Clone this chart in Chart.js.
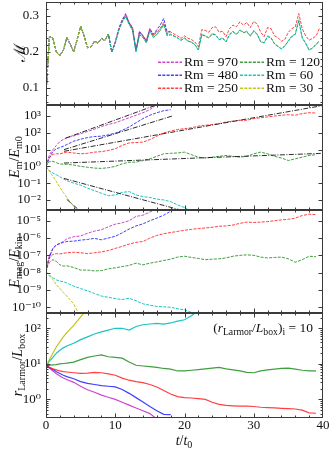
<!DOCTYPE html>
<html>
<head>
<meta charset="utf-8">
<title>MHD dynamo panels</title>
<script src="https://cdn.jsdelivr.net/npm/chart.js@4.4.1/dist/chart.umd.min.js"></script>
<style>
html,body{margin:0;padding:0;background:#fff;}
#fig{position:relative;width:333px;height:450px;overflow:hidden;font-family:"Liberation Serif","DejaVu Serif",serif;color:#111;}
#fig canvas{position:absolute;left:0;}
.t{position:absolute;white-space:nowrap;line-height:1;}
.yl{font-size:14px;transform:translate(-50%,-50%) rotate(-90deg);}
.t sub{font-size:72%;vertical-align:-0.3em;line-height:0;}
.leg{position:absolute;font-size:13.5px;line-height:1;white-space:nowrap;display:flex;align-items:center;transform:translateY(-50%);}
.leg svg{margin-right:2px;display:block;}
</style>
</head>
<body>
<div id="fig">
<canvas id="c1" width="333" height="111" style="top:0px"></canvas>
<canvas id="c2" width="333" height="117" style="top:99px"></canvas>
<canvas id="c3" width="333" height="115" style="top:204px"></canvas>
<canvas id="c4" width="333" height="143" style="top:307px"></canvas>
<div class="t yl" style="left:20px;top:53px;font-size:16px">ℳ</div>
<div class="t yl" style="left:15px;top:157px"><i>E</i><sub>m</sub>/<i>E</i><sub>m0</sub></div>
<div class="t yl" style="left:15px;top:262px"><i>E</i><sub>mag</sub>/<i>E</i><sub>kin</sub></div>
<div class="t yl" style="left:18px;top:365px"><i>r</i><sub>Larmor</sub>/<i>L</i><sub>box</sub></div>
<div class="t" style="left:184px;top:441px;transform:translate(-50%,-50%);font-size:14px"><i>t</i>/<i>t</i><sub>0</sub></div>
<div class="t" style="right:20px;top:328px;transform:translateY(-50%);font-size:13.5px">(<i>r</i><sub>Larmor</sub>/<i>L</i><sub>box</sub>)<sub>i</sub> = 10</div>
<div id="legend"></div>
</div>
<script>
// ---------- categories / labels ----------
const rmLabels = ['Rm = 970','Rm = 480','Rm = 250','Rm = 120','Rm = 60','Rm = 30'];
const rmColors = ['rgba(200,50,200,0.9)','rgba(30,30,255,0.85)','rgba(255,30,30,0.85)','rgba(30,140,30,0.85)','rgba(0,190,190,0.9)','rgba(190,190,0,0.9)'];

// ---------- tick labels ----------
const timeTicks = [0,10,20,30,40];
const timeLabels = ['0','10','20','30','40'];
const timeMinor = [2,4,6,8,12,14,16,18,22,24,26,28,32,34,36,38];
const machTicks = [0.1,0.2,0.3];
const machLabels = ['0.1','0.2','0.3'];
const machMinor = [0.06,0.08,0.12,0.14,0.16,0.18,0.22,0.24,0.26,0.28,0.32];
const emTicks = [1e-2,1e-1,1e0,1e1,1e2,1e3];
const emLabels = ['10⁻²','10⁻¹','10⁰','10¹','10²','10³'];
const ratioTicks = [1e-10,1e-9,1e-8,1e-7,1e-6,1e-5];
const ratioLabels = ['10⁻¹⁰','10⁻⁹','10⁻⁸','10⁻⁷','10⁻⁶','10⁻⁵'];
const larmorTicks = [1e0,1e1,1e2];
const larmorLabels = ['10⁰','10¹','10²'];
const larmorMinor = [0.4,0.5,0.6,0.7,0.8,0.9,2,3,4,5,6,7,8,9,20,30,40,50,60,70,80,90,200];

// ---------- panel 1: Mach number ----------
const tMach = [0,0.5,1,1.5,2,2.5,3,3.5,4,4.5,5,5.5,6,6.5,7,7.5,8,8.5,9,9.5,10,10.5,11,11.5,12,12.5,13,13.5,14,14.5,15,15.5,16,16.5,17,17.5,18,18.5,19,19.5,20,20.5,21,21.5,22,22.5,23,23.5,24,24.5,25,25.5,26,26.5,27,27.5,28,28.5,29,29.5,30,30.5,31,31.5,32,32.5,33,33.5,34,34.5,35,35.5,36,36.5,37,37.5,38,38.5,39,39.5];
const machRm970 = [0.085,0.243,0.238,0.2,0.19,0.205,0.24,0.222,0.2,0.235,
 0.272,0.245,0.212,0.215,0.23,0.225,0.238,0.232,0.25,0.2,
 0.228,0.265,0.29,0.307,0.283,0.268,0.205,0.258,0.245,0.232,
 0.266,0.248,0.258];
const machRm480 = [0.085,0.243,0.238,0.2,0.19,0.205,0.24,0.222,0.2,0.235,
 0.272,0.245,0.212,0.215,0.23,0.225,0.238,0.232,0.25,0.2,
 0.227,0.263,0.288,0.304,0.281,0.266,0.204,0.256,0.246,0.23,
 0.262,0.25,0.262,0.275,0.293,0.255,0.258];
const machRm250 = [0.085,0.243,0.238,0.2,0.19,0.205,0.24,0.222,0.2,0.235,
 0.272,0.245,0.212,0.215,0.23,0.225,0.238,0.232,0.25,0.2,
 0.226,0.262,0.286,0.302,0.28,0.264,0.203,0.254,0.244,0.23,
 0.265,0.245,0.255,0.266,0.282,0.25,0.256,0.25,0.245,0.238,
 0.245,0.238,0.235,0.228,0.215,0.262,0.26,0.255,0.268,0.27,
 0.255,0.258,0.243,0.265,0.275,0.27,0.284,0.275,0.282,0.268,
 0.285,0.278,0.255,0.243,0.268,0.265,0.245,0.24,0.23,0.235,
 0.255,0.265,0.27,0.307,0.265,0.245,0.233,0.238,0.245,0.266];
const machRm120 = [0.085,0.243,0.238,0.2,0.19,0.205,0.24,0.222,0.2,0.235,
 0.272,0.245,0.212,0.215,0.23,0.225,0.238,0.232,0.25,0.2,
 0.225,0.26,0.283,0.298,0.277,0.26,0.202,0.248,0.24,0.226,
 0.258,0.241,0.248,0.26,0.276,0.246,0.248,0.244,0.239,0.233,
 0.238,0.231,0.227,0.221,0.206,0.248,0.244,0.239,0.25,0.247,
 0.234,0.238,0.229,0.248,0.256,0.249,0.26,0.254,0.256,0.244,
 0.258,0.249,0.229,0.226,0.243,0.239,0.223,0.216,0.209,0.217,
 0.23,0.243,0.249,0.287,0.239,0.224,0.206,0.211,0.221,0.23];
const machRm60 = [0.085,0.243,0.238,0.2,0.19,0.205,0.24,0.222,0.2,0.235,
 0.272,0.245,0.212,0.215,0.23,0.225,0.238,0.232,0.25,0.2,
 0.225,0.26,0.285,0.3,0.278,0.262,0.2,0.25,0.24,0.225,
 0.26,0.24,0.25,0.262,0.278,0.245,0.25,0.245,0.24,0.232,
 0.24,0.23,0.228,0.22,0.205,0.25,0.245,0.24,0.252,0.248,
 0.235,0.24,0.228,0.25,0.258,0.25,0.262,0.255,0.258,0.245,
 0.26,0.25,0.228,0.225,0.245,0.24,0.222,0.215,0.208,0.218,
 0.232,0.245,0.25,0.29,0.24,0.225,0.205,0.212,0.222,0.232];
const machRm30 = [0.085,0.243,0.238,0.2,0.19,0.205,0.24,0.222,0.2,0.235,
 0.272,0.245,0.212,0.215,0.23,0.225,0.238,0.232,0.25];

// ---------- panels 2-4 share this time grid ----------
const tGrid = [0,0.25,0.5,1,1.5,2,2.5,3,4,5,6,7,8,9,10,11,12,13,14,15,16,17,18,19,20,21,22,23,24,25,26,27,28,29,30,31,32,33,34,35,36,37,38,39];

// panel 2: log10(E_m / E_m0)
const emLogRm970 = [0,0.35,0.7,1.0,1.25,1.48,1.6,1.7, 1.82,1.95,2.08,2.22,2.38,2.5,2.6,2.75,2.9,3.05,3.2,3.38,3.7];
const emLogRm480 = [0,0.25,0.5,0.9,1.05,1.12,1.2,1.3, 1.5,1.62,1.72,1.78,1.8,1.88,1.98,2.15,2.35,2.6,2.85,3.05,3.2,3.32,3.38];
const emLogRm250 = [0,0.35,0.55,0.72,0.75,0.75,0.8,0.85,
 0.8,0.75,0.78,0.85,0.88,0.95,1.05,1.25,1.4,1.42,1.45,1.6,1.8,2.0,2.1,2.2,2.25,2.3,2.4,2.45,2.5,2.55,2.65,2.7,2.75,2.75,2.85,2.9,2.95,3.0,3.05,3.08,3.05,3.15,3.2,3.18];
const emLogRm120 = [0,0.2,0.28,0.3,0.22,0.15,0.13,0.12,
 0.08,0.0,-0.05,-0.1,-0.12,-0.08,0.0,0.15,0.25,0.25,0.35,0.45,0.6,0.75,0.78,0.8,0.85,0.7,0.55,0.5,0.55,0.6,0.65,0.6,0.55,0.6,0.75,0.85,0.75,0.6,0.5,0.35,0.45,0.55,0.65,0.7];
const emLogRm60 = [0,-0.15,-0.25,-0.4,-0.5,-0.62,-0.75,-0.85,
 -1.0,-1.12,-1.3,-1.45,-1.6,-1.75,-1.7,-1.55,-1.5,-1.7,-1.8,-1.85,-1.95,-2.0,-2.1,-2.3,-2.45,-2.7];
const emLogRm30 = [0,-0.15,-0.3,-0.6,-0.9,-1.25,-1.55,-1.85,-2.38,-2.85];
// dash-dot exponential fits (end points, log10)
const fitTRm970 = [2.8,16.2];  const fitERm970 = [1.68,3.70];
const fitTRm480 = [2.6,18.2];  const fitERm480 = [1.0,3.0];
const fitTRm250 = [2.6,40];    const fitERm250 = [0.9,3.63];
const fitTRm120 = [2.6,40];    const fitERm120 = [0.2,0.78];
const fitTRm60  = [2.6,20.5];  const fitERm60  = [-0.72,-2.72];
const fitTRm30  = [3.0,5.0];   const fitERm30  = [-1.97,-2.69];

// panel 3: log10(E_mag / E_kin)
const ratioLogRm970 = [-7.95,-7.4,-7.0,-6.6,-6.4,-6.3,-6.2,-6.05, -5.92,-5.88,-5.72,-5.6,-5.52,-5.35,-5.2,-5.12,-5.0,-4.75,-4.68,-4.5,-4.3];
const ratioLogRm480 = [-7.95,-7.5,-7.1,-6.6,-6.4,-6.32,-6.25,-6.2, -6.18,-6.12,-6.08,-6.02,-6.1,-6.0,-5.9,-5.7,-5.48,-5.3,-5.18,-5.0,-4.85,-4.68,-4.45];
const ratioLogRm250 = [-7.95,-7.5,-7.15,-6.95,-6.9,-6.92,-6.88,-6.85,
 -6.82,-6.85,-6.9,-6.85,-6.8,-6.72,-6.6,-6.48,-6.35,-6.25,-6.2,-6.0,-5.85,-5.75,-5.68,-5.62,-5.55,-5.5,-5.45,-5.42,-5.38,-5.32,-5.3,-5.25,-5.15,-5.08,-5.1,-5.08,-5.05,-5.0,-4.95,-4.92,-4.85,-4.7,-4.62,-4.65];
const ratioLogRm120 = [-7.95,-7.6,-7.4,-7.25,-7.35,-7.55,-7.62,-7.6,
 -7.7,-7.85,-7.85,-7.9,-7.88,-7.78,-7.72,-7.65,-7.58,-7.45,-7.55,-7.45,-7.38,-7.3,-7.22,-7.1,-7.05,-7.12,-7.18,-7.25,-7.22,-7.2,-7.15,-7.05,-7.0,-6.97,-7.0,-7.1,-7.15,-7.12,-7.1,-7.2,-7.4,-7.25,-7.05,-7.08];
const ratioLogRm60 = [-7.95,-8.05,-8.15,-8.3,-8.42,-8.48,-8.52,-8.6,
 -8.78,-8.92,-9.05,-9.2,-9.35,-9.42,-9.5,-9.55,-9.48,-9.62,-9.8,-9.88,-9.95,-9.97,-10.0,-10.08,-10.15,-10.3,-10.5];
const ratioLogRm30 = [-7.95,-8.05,-8.2,-8.4,-8.7,-8.9,-9.15,-9.35,-9.8,-10.6];

// panel 4: log10(r_Larmor / L_box)
const larmorLogRm970 = [0.95,0.92,0.88,0.8,0.72,0.66,0.6,0.56, 0.48,0.37,0.27,0.2,0.12,0.06,0.0,-0.08,-0.16,-0.24,-0.32,-0.4,-0.55];
const larmorLogRm480 = [0.95,0.93,0.9,0.84,0.78,0.73,0.68,0.64, 0.58,0.5,0.45,0.42,0.39,0.37,0.35,0.28,0.17,0.05,-0.07,-0.2,-0.32,-0.42,-0.43];
const larmorLogRm250 = [0.95,0.93,0.9,0.86,0.83,0.8,0.78,0.77,
 0.75,0.73,0.74,0.76,0.75,0.72,0.68,0.6,0.54,0.5,0.47,0.42,0.35,0.25,0.15,0.08,0.05,0.04,0.02,0.0,-0.08,-0.14,-0.17,-0.18,-0.19,-0.19,-0.2,-0.22,-0.23,-0.24,-0.25,-0.26,-0.27,-0.3,-0.38,-0.39];
const larmorLogRm120 = [0.95,0.95,0.96,0.97,0.98,1.0,1.01,1.02,
 1.05,1.12,1.18,1.22,1.25,1.2,1.18,1.16,1.05,0.96,0.94,0.92,0.9,0.87,0.85,0.8,0.8,0.82,0.84,0.86,0.88,0.9,0.86,0.83,0.8,0.76,0.75,0.8,0.83,0.85,0.87,0.88,0.85,0.82,0.8,0.8];
const larmorLogRm60 = [0.95,1.0,1.08,1.18,1.3,1.38,1.45,1.5,
 1.58,1.68,1.76,1.84,1.9,1.95,2.0,2.0,1.95,2.05,2.1,2.12,2.14,2.12,2.15,2.2,2.24,2.35,2.5];
const larmorLogRm30 = [0.95,1.03,1.12,1.3,1.48,1.62,1.76,1.88,2.08,2.32,2.55];

// ---------- helpers ----------
const FONT = '"Liberation Serif","DejaVu Serif",serif';
function pts(ts, vals, isLog) {
  return vals.map((v, i) => ({x: ts[i], y: isLog ? Math.pow(10, v) : v}));
}
function series(ts, groups, isLog, dash, width) {
  return groups.map((vals, k) => ({
    label: rmLabels[k], data: pts(ts, vals, isLog),
    borderColor: rmColors[k], borderWidth: width, borderDash: dash,
    pointRadius: 0, fill: false, tension: 0, clip: 0, order: 10 - k
  }));
}

const frameTicks = {
  id: 'frameTicks',
  afterDraw(chart, args, o) {
    const ctx = chart.ctx, a = chart.chartArea;
    const xs = chart.scales.x, ys = chart.scales.y;
    ctx.save();
    ctx.strokeStyle = '#3a3a3a';
    ctx.lineWidth = 1;
    const drawX = (vals, len) => vals.forEach(v => {
      const p = Math.round(xs.getPixelForValue(v)) + 0.5;
      if (p < a.left || p > a.right) return;
      ctx.beginPath();
      ctx.moveTo(p, a.bottom); ctx.lineTo(p, a.bottom - len);
      ctx.moveTo(p, a.top); ctx.lineTo(p, a.top + len);
      ctx.stroke();
    });
    const drawY = (vals, len) => vals.forEach(v => {
      const p = Math.round(ys.getPixelForValue(v)) + 0.5;
      if (p < a.top || p > a.bottom) return;
      ctx.beginPath();
      ctx.moveTo(a.left, p); ctx.lineTo(a.left + len, p);
      ctx.moveTo(a.right, p); ctx.lineTo(a.right - len, p);
      ctx.stroke();
    });
    drawX(o.xMajor || [], 4.5);
    drawX(o.xMinor || [], 2.5);
    drawY(o.yMajor || [], 4.5);
    drawY(o.yMinor || [], 2.5);
    ctx.strokeRect(a.left + 0.5, a.top + 0.5, a.right - a.left - 1, a.bottom - a.top - 1);
    ctx.restore();
  }
};

function makeChart(id, c) {
  return new Chart(document.getElementById(id), {
    type: 'line',
    data: {datasets: c.datasets},
    options: {
      responsive: false, animation: false, events: [],
      layout: {padding: c.padding},
      plugins: {
        legend: {display: false}, tooltip: {enabled: false},
        frameTicks: {xMajor: timeTicks, xMinor: timeMinor, yMajor: c.yTicks, yMinor: c.yMinor}
      },
      scales: {
        x: {
          type: 'linear', min: 0, max: 40, display: c.showX,
          afterFit: s => { s.height = c.xHeight || 0; s.paddingLeft = 0; s.paddingRight = 0; },
          afterBuildTicks: s => { s.ticks = timeTicks.map(v => ({value: v})); },
          grid: {display: false, drawTicks: false}, border: {display: false},
          ticks: {autoSkip: false, maxRotation: 0, padding: 1, color: '#111',
            font: {family: FONT, size: 13, lineHeight: 1},
            callback: v => { const i = timeTicks.indexOf(v); return i >= 0 ? timeLabels[i] : ''; }}
        },
        y: {
          type: c.yType, min: c.yMin, max: c.yMax,
          afterFit: s => { s.width = 46; s.paddingTop = 0; s.paddingBottom = 0; },
          afterBuildTicks: s => { s.ticks = c.yTicks.map(v => ({value: v})); },
          grid: {display: false, drawTicks: false}, border: {display: false},
          ticks: {autoSkip: false, padding: c.yPad, color: '#111',
            font: {family: FONT, size: 13, lineHeight: 1},
            callback: v => { const i = c.yTicks.indexOf(v); return i >= 0 ? c.yLabels[i] : ''; }}
        }
      }
    },
    plugins: [frameTicks]
  });
}

function fitSet(ts, es) {
  return {data: pts(ts, es, true), borderColor: 'rgba(20,20,20,0.9)', borderWidth: 1,
    borderDash: [5, 1.5, 1, 1.5], pointRadius: 0, fill: false, clip: 0, order: 0};
}

// ---------- panel 1 ----------
makeChart('c1', {
  padding: {top: 2, bottom: 6, left: 0, right: 10},
  showX: false, yType: 'linear', yMin: 0.053, yMax: 0.339,
  yTicks: machTicks, yLabels: machLabels, yMinor: machMinor, yPad: 7,
  datasets: series(tMach, [machRm970, machRm480, machRm250, machRm120, machRm60, machRm30], false, [3, 1.3], 1)
});

// ---------- panel 2 ----------
makeChart('c2', {
  padding: {top: 6, bottom: 6, left: 0, right: 10},
  showX: false, yType: 'logarithmic', yMin: Math.pow(10, -2.6), yMax: Math.pow(10, 3.66),
  yTicks: emTicks, yLabels: emLabels, yMinor: [], yPad: 5,
  datasets: [
    ...series(tGrid, [emLogRm970, emLogRm480, emLogRm250, emLogRm120, emLogRm60, emLogRm30], true, [3, 1.3], 1),
    fitSet(fitTRm970, fitERm970), fitSet(fitTRm480, fitERm480), fitSet(fitTRm250, fitERm250),
    fitSet(fitTRm120, fitERm120), fitSet(fitTRm60, fitERm60), fitSet(fitTRm30, fitERm30)
  ]
});

// ---------- panel 3 ----------
makeChart('c3', {
  padding: {top: 6, bottom: 6, left: 0, right: 10},
  showX: false, yType: 'logarithmic', yMin: Math.pow(10, -10.33), yMax: Math.pow(10, -4.38),
  yTicks: ratioTicks, yLabels: ratioLabels, yMinor: [], yPad: 5,
  datasets: series(tGrid, [ratioLogRm970, ratioLogRm480, ratioLogRm250, ratioLogRm120, ratioLogRm60, ratioLogRm30], true, [3, 1.3], 1)
});

// ---------- panel 4 ----------
makeChart('c4', {
  padding: {top: 6, bottom: 0, left: 0, right: 10},
  showX: true, xHeight: 32, yType: 'logarithmic', yMin: Math.pow(10, -0.5), yMax: Math.pow(10, 2.43),
  yTicks: larmorTicks, yLabels: larmorLabels, yMinor: larmorMinor, yPad: 5,
  datasets: series(tGrid, [larmorLogRm970, larmorLogRm480, larmorLogRm250, larmorLogRm120, larmorLogRm60, larmorLogRm30], true, [], 1.2)
});

// ---------- legend (panel 1) ----------
(function () {
  const host = document.getElementById('legend');
  const cols = [158, 240];
  const rows = [62, 75, 88];
  rmLabels.forEach((lab, k) => {
    const col = Math.floor(k / 3), row = k % 3;
    const d = document.createElement('div');
    d.className = 'leg';
    d.style.left = cols[col] + 'px';
    d.style.top = rows[row] + 'px';
    d.innerHTML = '<svg width="24" height="4"><line x1="0" y1="2" x2="24" y2="2" stroke="' + rmColors[k] +
      '" stroke-width="1.3" stroke-dasharray="3,1.3"/></svg><span>' + lab + '</span>';
    host.appendChild(d);
  });
})();
</script>
</body>
</html>
